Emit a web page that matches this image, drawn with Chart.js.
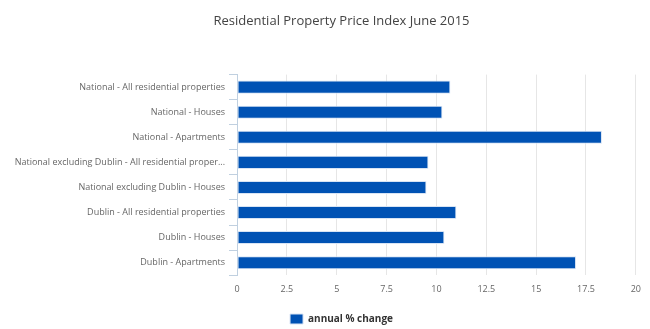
<!DOCTYPE html>
<html>
<head>
<meta charset="utf-8">
<script src="https://cdn.jsdelivr.net/npm/chart.js@4/dist/chart.umd.min.js"></script>
<style>
  html, body { margin: 0; padding: 0; background: #fff; }
  #wrap { width: 650px; height: 329px; }
</style>
</head>
<body>
<div id="wrap"><canvas id="rppiChart"></canvas></div>
<script>
const categories = [
  "National - All residential properties",
  "National - Houses",
  "National - Apartments",
  "National excluding Dublin - All residential proper...",
  "National excluding Dublin - Houses",
  "Dublin - All residential properties",
  "Dublin - Houses",
  "Dublin - Apartments"
];
const annualChange = [10.7, 10.3, 18.3, 9.6, 9.5, 11.0, 10.4, 17.0];
const xTicks = [0, 2.5, 5, 7.5, 10, 12.5, 15, 17.5, 20];

const fontFamily = "'Open Sans', 'DejaVu Sans', sans-serif";

// title and legend sit a bit right of the page middle in the original
const shiftBlocks = {
  id: "shiftBlocks",
  afterLayout(chart) {
    if (chart.titleBlock) chart.titleBlock.left = 44;
    if (chart.legend) {
      chart.legend.left = 44;
      chart.legend.top += 6;
      chart.legend.bottom += 6;
    }
  }
};

const ctx = document.getElementById("rppiChart").getContext("2d");
new Chart(ctx, {
  type: "bar",
  data: {
    labels: categories,
    datasets: [{
      label: "annual % change",
      data: annualChange,
      backgroundColor: "#0052b4",
      borderColor: "#d8e4f4",
      borderWidth: 1,
      borderSkipped: false,
      categoryPercentage: 1,
      barPercentage: 0.52
    }]
  },
  options: {
    indexAxis: "y",
    responsive: true,
    maintainAspectRatio: false,
    animation: false,
    layout: { padding: { left: 0, right: 11, top: 0, bottom: 1 } },
    plugins: {
      title: {
        display: true,
        text: "Residential Property Price Index June 2015",
        color: "#444",
        font: { family: fontFamily, size: 13, weight: "normal" },
        padding: { top: 13, bottom: 46 }
      },
      legend: {
        position: "bottom",
        labels: {
          color: "#333",
          boxWidth: 13,
          boxHeight: 10,
          padding: 4,
          font: { family: fontFamily, size: 10, weight: "bold" }
        }
      },
      tooltip: { enabled: false }
    },
    scales: {
      x: {
        min: 0,
        max: 20,
        afterBuildTicks: axis => {
          axis.ticks = xTicks.map(v => ({ value: v }));
        },
        grid: { color: "#e6e6e6", drawTicks: false },
        border: { display: false },
        ticks: {
          color: "#666",
          padding: 9,
          font: { family: fontFamily, size: 9 }
        }
      },
      y: {
        afterFit: axis => { axis.width = 237; },
        grid: {
          offset: true,
          drawOnChartArea: false,
          drawTicks: true,
          tickLength: 8,
          color: "#c0d0e0"
        },
        border: { display: true, color: "#c0d0e0" },
        ticks: {
          color: "#666",
          padding: 4,
          font: { family: fontFamily, size: 9 }
        }
      }
    }
  },
  plugins: [shiftBlocks]
});
</script>
</body>
</html>
